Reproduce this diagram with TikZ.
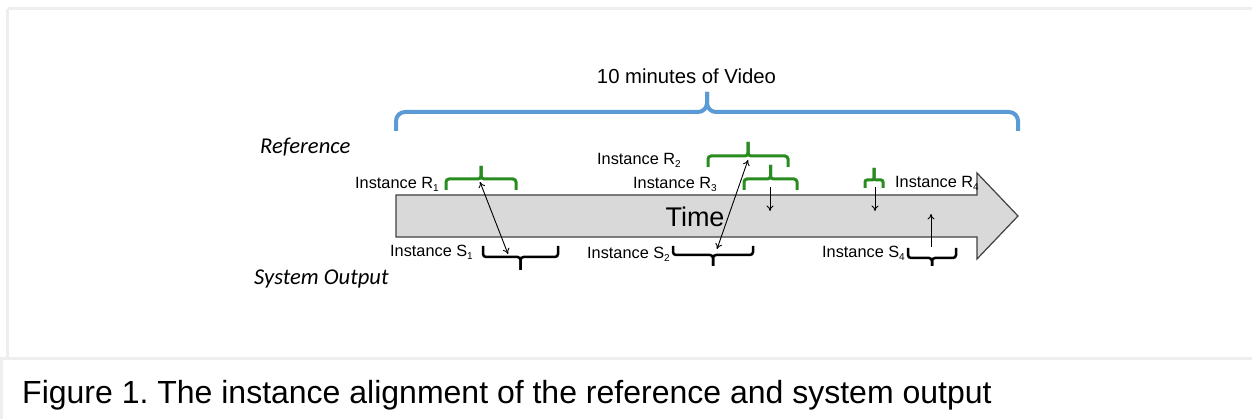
\documentclass[tikz,border=0pt]{standalone}
\usepackage{fontspec}
\setmainfont{Liberation Sans}
\newfontfamily\calfont{Carlito}
\usetikzlibrary{arrows.meta}
\definecolor{bracegreen}{RGB}{40,140,30}
\definecolor{braceblue}{RGB}{91,155,213}
\definecolor{bodygray}{RGB}{217,217,217}
\definecolor{framegray}{RGB}{238,238,238}
\newcommand{\mybrace}[6]{%
  \draw[#6] (#1,#3) -- (#1,#4) -- ({(#1+#2)/2},#4) -- ({(#1+#2)/2},#5);
  \draw[#6] (#2,#3) -- (#2,#4) -- ({(#1+#2)/2},#4) -- ({(#1+#2)/2},#5);}
\newcommand{\sub}[1]{\raisebox{-3pt}{\fontsize{10}{10}\selectfont #1}}
\frenchspacing
\begin{document}
\begin{tikzpicture}[x=1pt,y=-1pt,
  lbl/.style={anchor=base west,inner sep=0pt,font=\fontsize{16.3}{16.3}\selectfont},
  ital/.style={anchor=base west,inner sep=0pt,font=\calfont\itshape\fontsize{22.6}{23}\selectfont},
  gbrace/.style={draw=bracegreen,line width=3pt,rounded corners=3pt},
  kbrace/.style={draw=black,line width=2.5pt,rounded corners=3pt},
  link/.style={draw=black,line width=0.9pt,{To[length=5.5pt,width=7pt]}-{To[length=5.5pt,width=7pt]}},
  onelink/.style={draw=black,line width=0.9pt,-{To[length=5.5pt,width=7pt]}}]
\useasboundingbox (0,0) rectangle (1252,419);
\fill[white] (0,0) rectangle (1252,419);
% frame
\draw[framegray,line width=3pt] (7.5,9) -- (1252,9);
\draw[framegray,line width=3pt] (7.5,9) -- (7.5,357);
\draw[framegray,line width=3pt] (0,358.5) -- (1252,358.5);
\draw[framegray,line width=3pt] (1.5,358.5) -- (1.5,419);
% top brace
\mybrace{396}{1018}{131}{112}{92}{draw=braceblue,line width=4pt,rounded corners=9pt}
\node[anchor=base,inner sep=0pt,font=\fontsize{20.3}{20}\selectfont] (title) at (686.5,84) {10 minutes of Video};
% time arrow
\draw[fill=bodygray,draw=black!75,line width=1.2pt,line join=miter]
  (396,195) -- (977,195) -- (977,173) -- (1018,216) -- (977,259) -- (977,237) -- (396,237) -- cycle;
\node[anchor=base,inner sep=0pt,font=\fontsize{27}{27}\selectfont] (time) at (695,227) {Time};
% side labels
\node[ital] (ref) at (260,154) {Reference};
\node[ital] (sys) at (254,285) {System Output};
% instance labels
\node[lbl] (lr1) at (355,189) {Instance R\sub{1}};
\node[lbl] (ls1) at (390,257) {Instance S\sub{1}};
\node[lbl] (lr2) at (597,165) {Instance R\sub{2}};
\node[lbl] (lr3) at (633,189) {Instance R\sub{3}};
\node[lbl] (ls2) at (587,259) {Instance S\sub{2}};
\node[lbl] (lr4) at (895,188) {Instance R\sub{4}};
\node[lbl] (ls4) at (822,258) {Instance S\sub{4}};
% braces
\mybrace{446}{516}{190}{179}{166}{gbrace}
\mybrace{483}{558}{246}{257}{270}{kbrace}
\mybrace{708}{788}{167}{156}{142}{gbrace}
\mybrace{744}{797}{190}{179}{165}{gbrace}
\mybrace{673}{753}{246}{255}{266}{kbrace}
\mybrace{865}{883}{188}{180}{168}{draw=bracegreen,line width=3pt,rounded corners=2pt}
\mybrace{908}{956}{248}{258}{266}{kbrace}
% connector end points
\coordinate (r1) at (480,182);
\coordinate (s1) at (508,254);
\coordinate (r2) at (748,160);
\coordinate (s2) at (717,249);
\coordinate (r3a) at (770,187);
\coordinate (r3b) at (770,211);
\coordinate (r4a) at (875,187);
\coordinate (r4b) at (875,211);
\coordinate (s4a) at (931,247);
\coordinate (s4b) at (931,214);
\draw[link] (r1) -- (s1);
\draw[link] (r2) -- (s2);
\draw[onelink] (r3a) -- (r3b);
\draw[onelink] (r4a) -- (r4b);
\draw[onelink] (s4a) -- (s4b);
% caption
\node[anchor=base west,inner sep=0pt,font=\fontsize{32}{32}\selectfont] (cap) at (22,403) {Figure 1. The instance alignment of the reference and system output};
\end{tikzpicture}
\end{document}
